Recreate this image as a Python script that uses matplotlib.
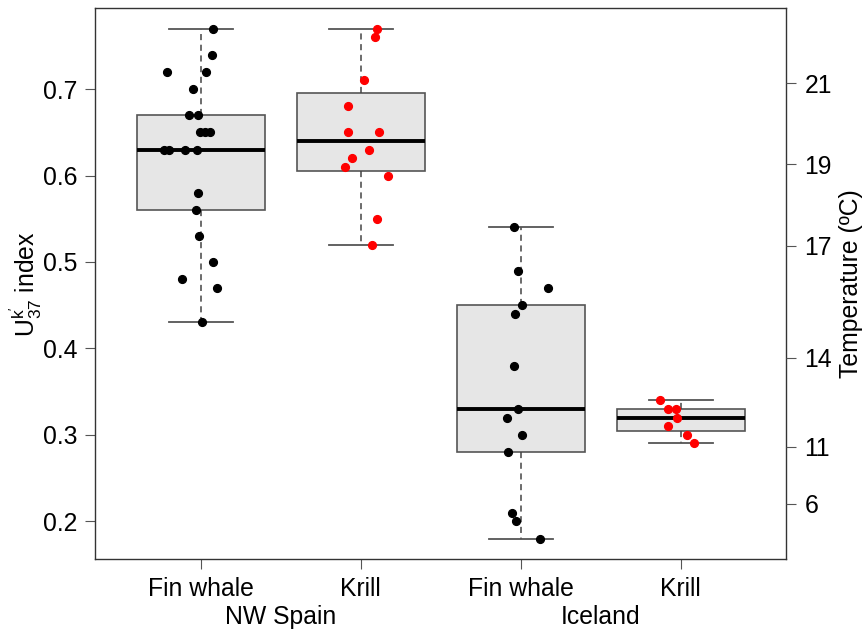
import matplotlib
matplotlib.use("Agg")
import matplotlib.pyplot as plt
import matplotlib.transforms as mtransforms
import numpy as np

plt.rcParams['font.family'] = ['Liberation Sans', 'DejaVu Sans']
plt.rcParams['mathtext.fontset'] = 'custom'
plt.rcParams['mathtext.rm'] = 'Liberation Sans'
plt.rcParams['mathtext.it'] = 'Liberation Sans'
plt.rcParams['mathtext.default'] = 'regular'

# data
species = ["Fin whale", "Krill", "Fin whale", "Krill"]
regions = ["NW Spain", "Iceland"]

spain_whale = [0.77, 0.74, 0.72, 0.72, 0.70, 0.67, 0.67, 0.65, 0.65, 0.65,
               0.63, 0.63, 0.63, 0.63, 0.58, 0.56, 0.53, 0.50, 0.48, 0.47, 0.43]
spain_whale_jit = [0.079, 0.071, -0.21, 0.033, -0.046, -0.075, -0.019, -0.008, 0.025, 0.058,
                   -0.23, -0.198, -0.098, -0.025, -0.015, -0.031, -0.010, 0.073, -0.119, 0.10, 0.006]

spain_krill = [0.77, 0.76, 0.71, 0.68, 0.65, 0.65, 0.63, 0.62, 0.61, 0.60, 0.55, 0.52]
spain_krill_jit = [0.10, 0.09, 0.023, -0.083, -0.081, 0.115, 0.05, -0.056, -0.098, 0.171, 0.102, 0.069]

iceland_whale = [0.54, 0.49, 0.47, 0.45, 0.44, 0.38, 0.33, 0.32, 0.30, 0.28, 0.21, 0.20, 0.18]
iceland_whale_jit = [-0.042, -0.015, 0.169, 0.006, -0.035, -0.040, -0.015, -0.085, 0.008, -0.077,
                     -0.056, -0.027, 0.123]

iceland_krill = [0.34, 0.33, 0.33, 0.32, 0.31, 0.30, 0.29]
iceland_krill_jit = [-0.129, -0.079, -0.027, -0.025, -0.077, 0.040, 0.085]

temp_labels = ["21", "19", "17", "14", "11", "6"]
temp_at = [0.707, 0.613, 0.519, 0.389, 0.286, 0.220]


def fivenum(v):
    # same hinges as R's boxplot
    v = np.sort(np.asarray(v, dtype=float))
    n = len(v)
    n4 = np.floor((n + 3) / 2) / 2
    d = [1, n4, (n + 1) / 2, n + 1 - n4, n]
    return [0.5 * (v[int(np.floor(i)) - 1] + v[int(np.ceil(i)) - 1]) for i in d]


def box_stats(v):
    lo, q1, med, q3, hi = fivenum(v)
    iqr = q3 - q1
    v = np.asarray(v)
    wlo = v[v >= q1 - 1.5 * iqr].min()
    whi = v[v <= q3 + 1.5 * iqr].max()
    return dict(med=med, q1=q1, q3=q3, whislo=wlo, whishi=whi, fliers=[])


groups = [spain_whale, spain_krill, iceland_whale, iceland_krill]
jitters = [spain_whale_jit, spain_krill_jit, iceland_whale_jit, iceland_krill_jit]
colors = ["black", "red", "black", "red"]
fs = 17.8

fig = plt.figure(figsize=(8.66, 6.33), dpi=100)
ax = fig.add_axes([0.110, 0.117, 0.798, 0.870])

edge = "#555555"
ax.bxp([box_stats(g) for g in groups], positions=[1, 2, 3, 4], widths=0.8,
       patch_artist=True, showfliers=False,
       boxprops=dict(facecolor="#E6E6E6", edgecolor=edge, linewidth=1.2),
       medianprops=dict(color="black", linewidth=2.8),
       whiskerprops=dict(color="#444444", linestyle=(0, (4, 3)), linewidth=1.1),
       capprops=dict(color=edge, linewidth=1.3), capwidths=0.4)

for i, (g, j, c) in enumerate(zip(groups, jitters, colors)):
    ax.plot(np.array(j) + i + 1, g, "o", color=c, markersize=5.6, zorder=5)

ax.set_xlim(0.34, 4.66)
ax.set_ylim(0.1564, 0.7936)
ax.set_yticks([0.2, 0.3, 0.4, 0.5, 0.6, 0.7])
ax.set_xticks([1, 2, 3, 4], species)
ax.tick_params(axis="both", labelsize=fs, length=7, width=0.8, color="#555555", pad=6)
for s in ax.spines.values():
    s.set_color("#333333")
    s.set_linewidth(1.0)
ax.set_ylabel(r"U$^{k'}_{37}$ index", fontsize=fs, labelpad=-1)

trans = mtransforms.blended_transform_factory(ax.transData, fig.transFigure)
ax.text(1.5, 0.025, regions[0], transform=trans, ha="center", va="center", fontsize=fs)
ax.text(3.5, 0.025, regions[1], transform=trans, ha="center", va="center", fontsize=fs)

ax2 = ax.twinx()
ax2.set_ylim(ax.get_ylim())
ax2.set_yticks(temp_at, temp_labels)
ax2.tick_params(axis="y", labelsize=fs, length=7, width=0.8, color="#555555", pad=6)
ax2.set_ylabel("Temperature (ºC)", fontsize=fs, labelpad=5)
for s in ax2.spines.values():
    s.set_visible(False)

fig.savefig("out.png", dpi=100)
